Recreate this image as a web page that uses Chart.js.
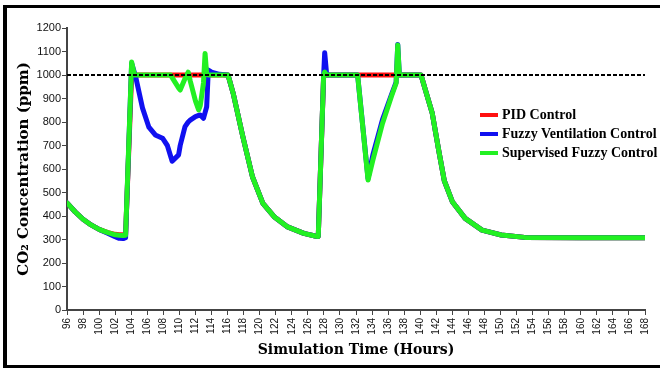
<!DOCTYPE html>
<html>
<head>
<meta charset="utf-8">
<script src="https://cdn.jsdelivr.net/npm/chart.js@4/dist/chart.umd.min.js"></script>
<style>
  html, body { margin: 0; padding: 0; background: #fff; }
  #wrap { position: relative; width: 660px; height: 369px; overflow: hidden; }
  #frame {
    position: absolute; left: 3px; top: 5px; width: 700px; height: 363px;
    box-sizing: border-box; border: 3px solid #000; border-left-width: 4px;
  }
  #chart { position: absolute; left: 0; top: 0; }
  #legend {
    position: absolute; left: 480px; top: 105px;
    font: bold 14px "Liberation Serif", "Times New Roman", serif; color: #000;
  }
  #legend .row { display: flex; align-items: center; height: 19px; white-space: nowrap; }
  #legend .sw { width: 18px; height: 4px; margin-right: 4px; }
</style>
</head>
<body>
<div id="wrap">
  <div id="frame"></div>
  <canvas id="chart" width="660" height="369"></canvas>
  <div id="legend"></div>
</div>
<script>
// sample times (hours) shared by all three controllers
const hours = [
  96, 97, 98, 99, 100, 101, 102, 102.5, 103, 103.3,
  104.05, 104.4, 104.6, 105.4, 106.2, 107.0, 107.9, 108.5, 108.9, 109.1,
  109.9, 110.1, 110.7, 111.1, 111.35, 112.0, 112.4, 112.6, 113.0, 113.2,
  113.4, 113.6, 114, 115, 116.06, 116.7, 117.9, 119.1, 120.4, 121.8,
  123.4, 125.5, 126.9, 127.3, 127.97, 128.1, 128.35, 132.2, 133.5, 134.1,
  135.3, 136.4, 137.0, 137.2, 137.4, 140.1, 140.7, 141.5, 142.3, 143.0,
  144.0, 145.6, 147.7, 150.1, 153, 160, 168
];

// CO2 concentration (ppm)
const pidPpm = [
  456, 418, 386, 362, 343, 330, 322, 320, 320, 322,
  1000, 1000, 1000, 1000, 1000, 1000, 1000, 1000, 1000, 1000,
  1000, 1000, 1000, 1000, 1000, 1000, 1000, 1000, 1000, 1000,
  1000, 1000, 1000, 1000, 1000, 922, 738, 567, 454, 397,
  355, 326, 315, 313, 995, 1000, 1000, 1000, 1000, 1000,
  1000, 1000, 1000, 1000, 1000, 1000, 930, 837, 680, 550,
  461, 390, 340, 319, 309, 307, 307
];
const fuzzyPpm = [
  456, 418, 386, 362, 343, 328, 312, 305, 304, 308,
  1050, 1010, 985, 860, 778, 745, 731, 700, 655, 633,
  660, 700, 780, 800, 808, 823, 828, 830, 816, 840,
  865, 1021, 1012, 1003, 1000, 922, 738, 567, 454, 397,
  355, 326, 315, 313, 1000, 1095, 1000, 1000, 560, 660,
  810, 915, 970, 1130, 1000, 1000, 930, 837, 680, 550,
  461, 390, 340, 319, 309, 307, 307
];
const supervisedPpm = [
  456, 418, 386, 362, 343, 330, 320, 318, 317, 318,
  1055, 1000, 1000, 1000, 1000, 1000, 1000, 1000, 1000, 989,
  945, 936, 985, 1012, 975, 890, 851, 870, 966, 1092,
  1005, 1000, 1000, 1000, 1000, 922, 738, 567, 454, 397,
  355, 326, 315, 313, 1000, 1012, 1000, 1000, 553, 638,
  794, 908, 965, 1128, 1000, 1000, 930, 837, 680, 550,
  461, 390, 340, 319, 309, 307, 307
];

// setpoint line
const setpointHours = [96, 168];
const setpointPpm = [1000, 1000];

// axis ticks
const hourTicks = [
  96, 98, 100, 102, 104, 106, 108, 110, 112, 114, 116, 118, 120,
  122, 124, 126, 128, 130, 132, 134, 136, 138, 140, 142, 144, 146,
  148, 150, 152, 154, 156, 158, 160, 162, 164, 166, 168
];
const ppmTicks = [0, 100, 200, 300, 400, 500, 600, 700, 800, 900, 1000, 1100, 1200];

const toPoints = (xs, ys) => xs.map((x, i) => ({ x: x, y: ys[i] }));

const series = (label, values, color, order) => ({
  label: label,
  data: toPoints(hours, values),
  borderColor: color,
  backgroundColor: color,
  borderWidth: 5,
  borderJoinStyle: "round",
  borderCapStyle: "round",
  pointRadius: 0,
  tension: 0,
  order: order,
});

const chart = new Chart(document.getElementById("chart").getContext("2d"), {
  type: "line",
  data: {
    datasets: [
      series("PID Control", pidPpm, "#ff1010", 3),
      series("Fuzzy Ventilation Control", fuzzyPpm, "#1010f0", 2),
      series("Supervised Fuzzy Control", supervisedPpm, "#22f022", 1),
      {
        label: "Setpoint",
        data: toPoints(setpointHours, setpointPpm),
        borderColor: "#000",
        borderWidth: 2,
        borderDash: [4, 2],
        pointRadius: 0,
        order: 0,
      },
    ],
  },
  options: {
    responsive: false,
    animation: false,
    layout: { padding: { top: 28, right: 8, left: 0, bottom: 0 } },
    plugins: {
      legend: { display: false },
      tooltip: { enabled: false },
    },
    scales: {
      x: {
        type: "linear",
        min: 96,
        max: 168,
        afterBuildTicks: (scale) => {
          scale.ticks = hourTicks.map((v) => ({ value: v }));
        },
        afterFit: (scale) => {
          scale.height = 59;
        },
        ticks: {
          autoSkip: false,
          minRotation: 90,
          maxRotation: 90,
          padding: 3,
          color: "#111",
          font: { family: "'Liberation Sans', Arial, sans-serif", size: 10 },
          callback: (v) => String(v),
        },
        grid: { drawOnChartArea: false, tickLength: 5, color: "#444" },
        border: { color: "#444", width: 2 },
        title: {
          display: true,
          text: "Simulation Time (Hours)",
          color: "#000",
          font: { family: "'DejaVu Serif', serif", size: 14, weight: "bold" },
          padding: { top: 0, bottom: 10 },
        },
      },
      y: {
        min: 0,
        max: 1200,
        afterBuildTicks: (scale) => {
          scale.ticks = ppmTicks.map((v) => ({ value: v }));
        },
        afterFit: (scale) => {
          scale.width = 67;
        },
        ticks: {
          padding: 1,
          color: "#111",
          font: { family: "'Liberation Sans', Arial, sans-serif", size: 11 },
          callback: (v) => String(v),
        },
        grid: { drawOnChartArea: false, tickLength: 5, color: "#444" },
        border: { color: "#444", width: 2 },
        title: {
          display: true,
          text: "CO₂ Concentration (ppm)",
          color: "#000",
          font: { family: "'DejaVu Serif', serif", size: 15, weight: "bold" },
          padding: { top: 15, bottom: 0 },
        },
      },
    },
  },
});

// legend for the three controllers
const legend = document.getElementById("legend");
chart.data.datasets.slice(0, 3).forEach((ds) => {
  const row = document.createElement("div");
  row.className = "row";
  const sw = document.createElement("span");
  sw.className = "sw";
  sw.style.background = ds.borderColor;
  const txt = document.createElement("span");
  txt.textContent = ds.label;
  row.appendChild(sw);
  row.appendChild(txt);
  legend.appendChild(row);
});
</script>
</body>
</html>
